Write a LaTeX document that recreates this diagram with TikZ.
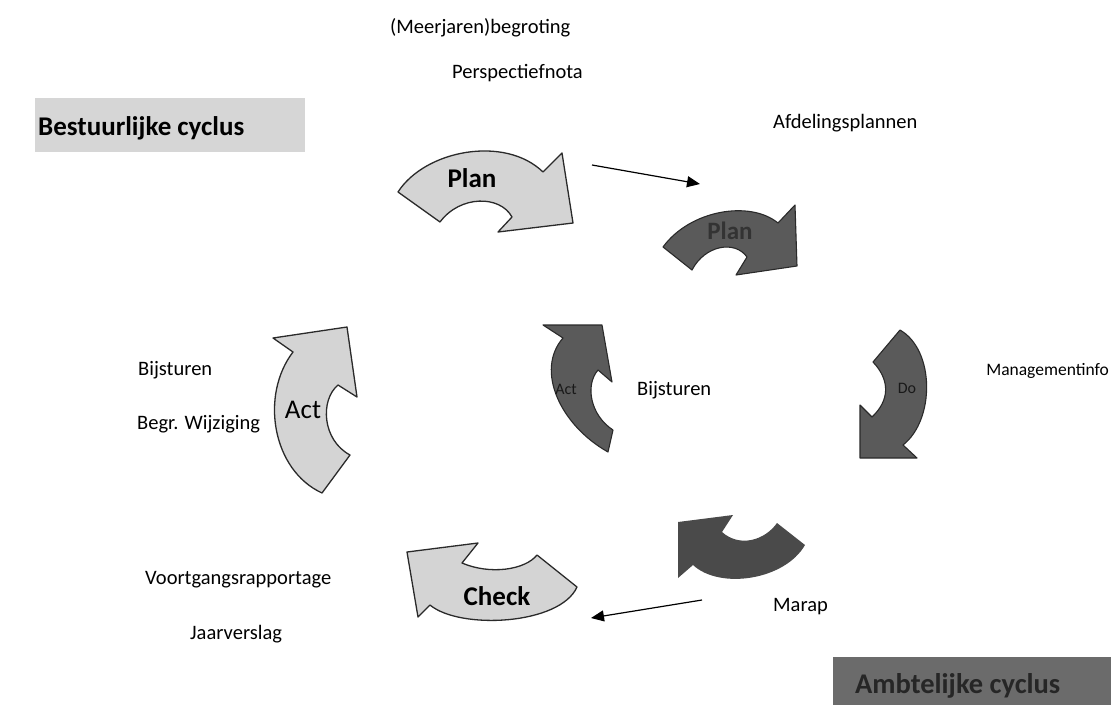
\documentclass[tikz,border=0pt]{standalone}
\usepackage{fontspec}
\setmainfont{Carlito}
\usetikzlibrary{arrows.meta}
\definecolor{lightfill}{HTML}{D4D4D4}
\definecolor{darkfill}{HTML}{5A5A5A}
\definecolor{marapfill}{HTML}{4A4A4A}
\definecolor{edge}{HTML}{2A2A2A}
\definecolor{boxlight}{HTML}{D6D6D6}
\definecolor{boxdark}{HTML}{6B6B6B}
\tikzset{
  lightarrow/.style={fill=lightfill, draw=edge, line width=1.3pt, line join=round},
  darkarrow/.style={fill=darkfill, draw=edge, line width=1.1pt, line join=round},
  solidarrow/.style={fill=marapfill, draw=none},
  lbl/.style={font=\fontsize{20.5}{22}\selectfont, inner sep=0pt, anchor=base west},
  biglbl/.style={font=\fontsize{27}{30}\selectfont\bfseries, inner sep=0pt},
  smalllbl/.style={font=\fontsize{16}{18}\selectfont, inner sep=0pt, text=black!90},
  conn/.style={draw=black, line width=1.2pt, -{Triangle[length=13pt,width=11pt]}},
}
\begin{document}
\begin{tikzpicture}[x=1pt,y=-1pt]
\useasboundingbox (0,0) rectangle (1111,705);
% ---------- curved arrows ----------
% light Plan
\path[lightarrow] (398,192) .. controls (425,150) and (505,135) .. (543,172)
  -- (562,153) -- (573,223) -- (498,232) -- (512,217)
  .. controls (500,195) and (460,195) .. (440,222) -- cycle;
% dark Plan
\path[darkarrow] (663,247) .. controls (690,210) and (750,200) .. (778,223)
  -- (795,205) -- (797,266) -- (736,275) -- (747,257)
  .. controls (735,240) and (705,245) .. (692,270) -- cycle;
% dark Act (centre)
\path[darkarrow] (608,452) .. controls (560,425) and (535,370) .. (563,338)
  -- (543,325) -- (602,325) -- (612,382) -- (598,370)
  .. controls (585,385) and (590,415) .. (613,430) -- cycle;
% dark Do
\path[darkarrow] (900,330) .. controls (935,350) and (935,420) .. (903,445)
  -- (917,458) -- (860,458) -- (860,405) -- (872,417)
  .. controls (890,400) and (890,380) .. (873,362) -- cycle;
% dark Marap arrow
\path[solidarrow] (805,545) .. controls (785,580) and (720,590) .. (693,565)
  -- (678,578) -- (678,522) -- (733,515) -- (722,532)
  .. controls (740,548) and (765,540) .. (777,523) -- cycle;
% light Check
\path[lightarrow] (577,587) .. controls (560,625) and (460,630) .. (430,605)
  -- (418,617) -- (407,552) -- (478,543) -- (462,563)
  .. controls (490,575) and (525,570) .. (537,555) -- cycle;
% light Act
\path[lightarrow] (322,493) .. controls (272,470) and (260,395) .. (293,352)
  -- (273,338) -- (347,327) -- (357,397) -- (338,385)
  .. controls (320,400) and (322,440) .. (350,455) -- cycle;
% ---------- texts inside arrows ----------
\node[biglbl] (tplan1) at (472,178) {Plan};
\node[biglbl, font=\fontsize{25}{27}\selectfont\bfseries, text=black!80] (tplan2) at (730,231) {Plan};
\node[smalllbl] (tact2) at (566,389) {Act};
\node[smalllbl] (tdo) at (907,388) {Do};
\node[biglbl] (tcheck) at (497,596) {Check};
\node[biglbl, font=\fontsize{27}{30}\selectfont] (tact1) at (303,410) {Act};
% ---------- cycle boxes ----------
\path[fill=boxlight] (35,98) rectangle (305,152);
\node[biglbl, anchor=base west] (bestuur) at (38,135) {Bestuurlijke cyclus};
\path[fill=boxdark] (833,657) rectangle (1111,705);
\node[biglbl, font=\fontsize{28.5}{30}\selectfont\bfseries, anchor=base west, text=black!85] (ambt) at (855,693) {Ambtelijke cyclus};
% ---------- labels ----------
\node[lbl] (mjb) at (390,33) {(Meerjaren)begroting};
\node[lbl] (persp) at (452,78) {Perspectiefnota};
\node[lbl] (afd) at (773,128) {Afdelingsplannen};
\node[lbl, font=\fontsize{17.5}{20}\selectfont, anchor=base east] (mgmt) at (1109,375) {Managementinfo};
\node[lbl] (bijs1) at (138,375) {Bijsturen};
\node[lbl] (begr) at (137,429) {Begr. Wijziging};
\node[lbl] (bijs2) at (637,395) {Bijsturen};
\node[lbl] (voort) at (145,584) {Voortgangsrapportage};
\node[lbl] (jaar) at (190,639) {Jaarverslag};
\node[lbl] (marap) at (773,611) {Marap};
% ---------- connectors ----------
\coordinate (a1s) at (592,165);
\coordinate (a1e) at (700,184);
\coordinate (a2s) at (702,600);
\coordinate (a2e) at (591,618);
\draw[conn] (a1s) -- (a1e);
\draw[conn] (a2s) -- (a2e);
\end{tikzpicture}
\end{document}
